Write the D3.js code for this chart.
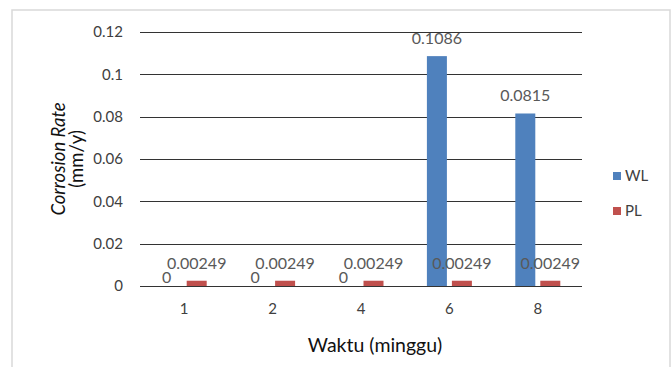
<!DOCTYPE html>
<html>
<head>
<meta charset="utf-8">
<script src="https://cdn.jsdelivr.net/npm/d3@7"></script>
<style>
  html, body { margin: 0; padding: 0; background: #fff; }
  svg { display: block; font-family: Lato, "Open Sans", sans-serif; }
</style>
</head>
<body>
<svg id="chart" width="672" height="367"></svg>
<script>
// Weeks of exposure (x categories)
const categories = ["1", "2", "4", "6", "8"];
// Corrosion rate per series (mm/y)
const seriesNames = ["WL", "PL"];
const wlValues = [0, 0, 0, 0.1086, 0.0815];
const plValues = [0.00249, 0.00249, 0.00249, 0.00249, 0.00249];
const wlLabels = ["0", "0", "0", "0.1086", "0.0815"];
const plLabels = ["0.00249", "0.00249", "0.00249", "0.00249", "0.00249"];
const yTicks = [0, 0.02, 0.04, 0.06, 0.08, 0.1, 0.12];
const colors = { WL: "#4f81bd", PL: "#c0504d" };

const svg = d3.select("#chart");

// Outer chart frame
svg.append("rect")
  .attr("x", 12).attr("y", 10)
  .attr("width", 658).attr("height", 370)
  .attr("fill", "#fff")
  .attr("stroke", "#d9d9d9").attr("stroke-width", 1.5);

const plot = { left: 140, right: 582, top: 32, bottom: 286 };

const x = d3.scaleBand()
  .domain(categories)
  .range([plot.left, plot.right]);

const y = d3.scaleLinear()
  .domain([0, 0.12])
  .range([plot.bottom, plot.top]);

const barW = 20, gap = 5;
const xs = d3.scaleOrdinal()
  .domain(seriesNames)
  .range([-(barW + gap / 2), gap / 2]);

// Horizontal gridlines
svg.append("g")
  .selectAll("line")
  .data(yTicks)
  .join("line")
  .attr("x1", plot.left).attr("x2", plot.right)
  .attr("y1", d => Math.round(y(d)) + 0.5)
  .attr("y2", d => Math.round(y(d)) + 0.5)
  .attr("stroke", "#333").attr("stroke-width", 1);

// Y axis tick labels
const yAxis = d3.axisLeft(y)
  .tickValues(yTicks)
  .tickFormat(d => d3.format("")(+d.toFixed(2)))
  .tickSize(0)
  .tickPadding(17);
const gy = svg.append("g")
  .attr("transform", `translate(${plot.left},0)`)
  .call(yAxis);
gy.select(".domain").remove();
gy.selectAll("text")
  .attr("font-size", 15)
  .attr("fill", "#404040")
  .attr("font-family", "Lato, sans-serif");

// X axis category labels
const xAxis = d3.axisBottom(x).tickSize(0).tickPadding(17);
const gx = svg.append("g")
  .attr("transform", `translate(0,${plot.bottom})`)
  .call(xAxis);
gx.select(".domain").remove();
gx.selectAll("text")
  .attr("font-size", 15)
  .attr("fill", "#404040")
  .attr("font-family", "Lato, sans-serif");

// Bars
const rows = categories.map((c, i) => ({
  cat: c,
  items: [
    { s: "WL", v: wlValues[i], label: wlLabels[i] },
    { s: "PL", v: plValues[i], label: plLabels[i] }
  ]
}));

const groups = svg.append("g")
  .selectAll("g")
  .data(rows)
  .join("g")
  .attr("transform", d => `translate(${x(d.cat) + x.bandwidth() / 2},0)`);

groups.selectAll("rect")
  .data(d => d.items)
  .join("rect")
  .attr("x", d => xs(d.s))
  .attr("width", barW)
  .attr("y", d => y(d.v))
  .attr("height", d => y(0) - y(d.v))
  .attr("fill", d => colors[d.s]);

// Data labels (zero labels nudged left so they clear the neighbouring label)
groups.selectAll("text")
  .data(d => d.items)
  .join("text")
  .attr("x", d => xs(d.s) + barW / 2 + (d.v === 0 ? -5 : 0))
  .attr("y", d => d.v === 0 ? y(0) - 3 : y(d.v) - 12)
  .attr("text-anchor", "middle")
  .attr("font-size", 16)
  .attr("fill", "#595959")
  .text(d => d.label);

// Legend
const legend = svg.append("g")
  .selectAll("g")
  .data(seriesNames)
  .join("g")
  .attr("transform", (d, i) => `translate(613,${176 + i * 35})`);
legend.append("rect")
  .attr("x", 0).attr("y", -4)
  .attr("width", 8).attr("height", 8)
  .attr("fill", d => colors[d]);
legend.append("text")
  .attr("x", 12).attr("y", 5)
  .attr("font-size", 15)
  .attr("fill", "#404040")
  .text(d => d);

// Axis titles
svg.append("text")
  .attr("x", 375)
  .attr("y", 352)
  .attr("text-anchor", "middle")
  .attr("font-size", 19.5)
  .attr("fill", "#111")
  .text("Waktu (minggu)");

const yTitle = svg.append("text")
  .attr("transform", "translate(0,159) rotate(-90)")
  .attr("text-anchor", "middle")
  .attr("font-size", 18.5)
  .attr("fill", "#111");
yTitle.append("tspan")
  .attr("x", 0).attr("y", 65)
  .attr("font-style", "italic")
  .text("Corrosion Rate");
yTitle.append("tspan")
  .attr("x", 0).attr("y", 83)
  .text("(mm/y)");
</script>
</body>
</html>
